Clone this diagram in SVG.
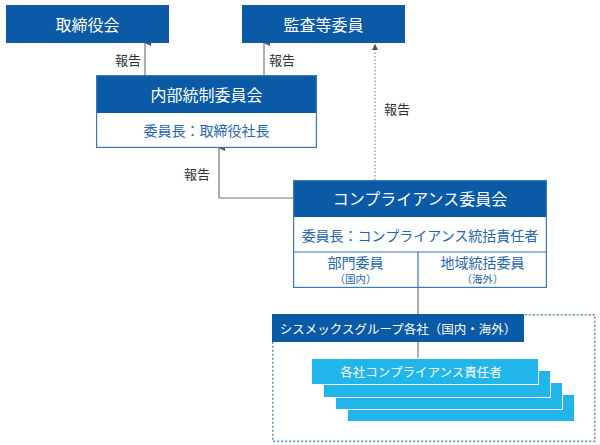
<svg xmlns="http://www.w3.org/2000/svg" width="600" height="445" viewBox="0 0 600 445">
<style>
text{font-family:"Noto Sans CJK JP","Noto Sans",sans-serif;text-anchor:middle;dominant-baseline:central}
.dk{fill:#0b5aa6}
.wt{fill:#fff}
.hd{fill:#fff;font-size:16px}
.sub{fill:#2566ae;font-size:14px}
.sm{fill:#2566ae;font-size:10.5px}
.bd{fill:none;stroke:#3a78bb;stroke-width:1.2}
.lb{fill:#21b5ea;stroke:#fff;stroke-width:1}
.rp{fill:#333;font-size:13px}
.ln{fill:none;stroke:#777;stroke-width:1.2}
.dt{fill:none;stroke:#888;stroke-width:1.2;stroke-dasharray:1.5 2}
.gb{fill:none;stroke:#5a8ac6;stroke-width:1.5;stroke-dasharray:2 2}
</style>
<defs>
<marker id="ah" viewBox="0 0 8 8" refX="4" refY="1" markerWidth="8" markerHeight="8" markerUnits="userSpaceOnUse" orient="auto-start-reverse">
<path d="M1,7 L4,0.5 L7,7 Z" fill="#555"/>
</marker>
</defs>
<g id="connectors">
<line class="ln" x1="145" y1="75" x2="145" y2="43" marker-end="url(#ah)"/>
<line class="ln" x1="264" y1="75" x2="264" y2="43" marker-end="url(#ah)"/>
<line class="dt" x1="375" y1="180" x2="375" y2="46"/>
<path d="M372,50 L375,43.5 L378,50 Z" fill="#555"/>
<polyline class="ln" points="293,198 219,198 219,148" marker-end="url(#ah)"/>
<line class="ln" x1="418" y1="288" x2="418" y2="314"/>
<line class="ln" x1="418" y1="342" x2="418" y2="358"/>
<text class="rp" x="128" y="59">報告</text>
<text class="rp" x="282" y="59">報告</text>
<text class="rp" x="397" y="108">報告</text>
<text class="rp" x="197" y="173">報告</text>
</g>
<g id="board">
<rect class="dk" x="6" y="5" width="163" height="38"/>
<text class="hd" x="87.5" y="24">取締役会</text>
</g>
<g id="audit">
<rect class="dk" x="242" y="5" width="163" height="38"/>
<text class="hd" x="323.5" y="24">監査等委員</text>
</g>
<g id="internal-control">
<rect class="wt" x="96" y="75" width="221" height="73"/>
<rect class="dk" x="96" y="75" width="221" height="38"/>
<rect class="bd" x="96.6" y="75.6" width="219.8" height="71.8"/>
<text class="hd" x="206.5" y="94">内部統制委員会</text>
<text class="sub" x="206.5" y="130">委員長：取締役社長</text>
</g>
<g id="compliance">
<rect class="wt" x="293" y="180" width="254" height="108"/>
<rect class="dk" x="293" y="180" width="254" height="37"/>
<rect class="bd" x="293.6" y="180.6" width="252.8" height="106.8"/>
<line class="bd" x1="293" y1="252" x2="547" y2="252"/>
<line class="bd" x1="418" y1="252" x2="418" y2="288"/>
<text class="hd" x="420" y="198">コンプライアンス委員会</text>
<text class="sub" x="420" y="235">委員長：コンプライアンス統括責任者</text>
<text class="sub" x="355.5" y="261.5">部門委員</text>
<text class="sm" x="355.5" y="278">（国内）</text>
<text class="sub" x="482.5" y="261.5">地域統括委員</text>
<text class="sm" x="482.5" y="278">（海外）</text>
</g>
<g id="group">
<rect class="gb" x="272.75" y="314.75" width="322" height="126.5"/>
<rect class="dk" x="272" y="314" width="252" height="28"/>
<text class="wt" x="398" y="328" style="font-size:12.5px">シスメックスグループ各社（国内・海外）</text>
</g>
<g id="officers">
<rect class="lb" x="347.5" y="394.5" width="227" height="27"/>
<rect class="lb" x="335.5" y="382.5" width="227" height="27"/>
<rect class="lb" x="323.5" y="370.5" width="227" height="27"/>
<rect class="lb" x="311.5" y="358.5" width="227" height="26"/>
<text class="wt" x="421" y="371" style="font-size:12.5px">各社コンプライアンス責任者</text>
</g>
</svg>
